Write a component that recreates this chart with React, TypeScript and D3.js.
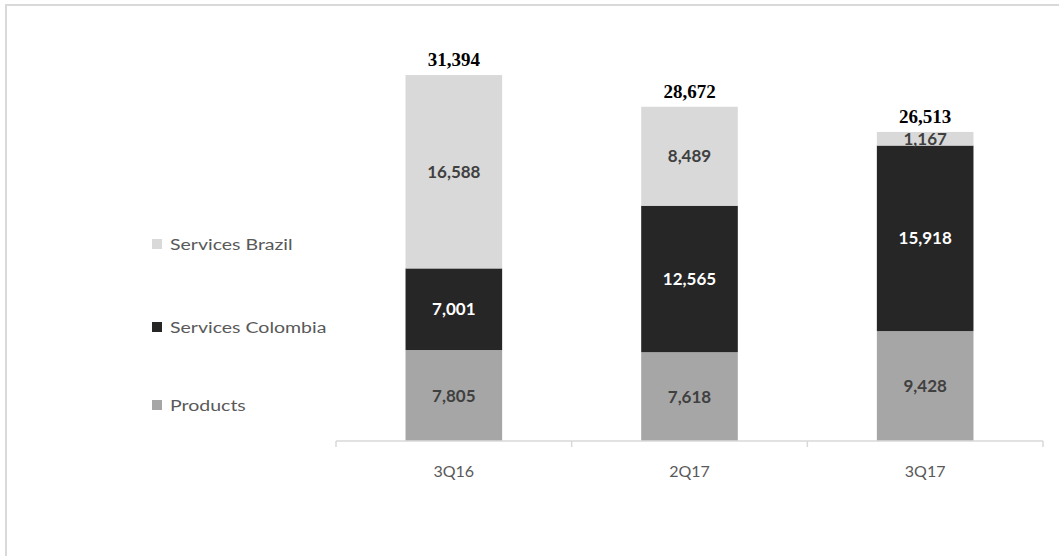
import React from "react";
import * as d3 from "d3";

const categories = ["3Q16", "2Q17", "3Q17"];
const products = [7805, 7618, 9428];
const servicesColombia = [7001, 12565, 15918];
const servicesBrazil = [16588, 8489, 1167];
const totals = [31394, 28672, 26513];
const seriesNames = ["Products", "Services Colombia", "Services Brazil"];
const seriesColors = ["#a6a6a6", "#262626", "#d9d9d9"];
const labelColors = ["#404040", "#ffffff", "#404040"];

const W = 1059;
const H = 556;
const sansFont = "Lato, 'Open Sans', sans-serif";

export default function App() {
  const x = d3.scaleBand<string>().domain(categories).range([336, 1043]).paddingInner(0.59).paddingOuter(0.295);
  const y = d3.scaleLinear().domain([0, 35000]).range([441, 33]);
  const rows = categories.map((c, i) => ({
    cat: c,
    Products: products[i],
    "Services Colombia": servicesColombia[i],
    "Services Brazil": servicesBrazil[i],
  }));
  const stack = d3.stack<any>().keys(seriesNames)(rows);
  const fmt = d3.format(",");
  const band = x.step();
  const ticks = [0, 1, 2, 3].map((i) => 336 + i * band);

  const legendY = [405, 327, 244];

  return (
    <div style={{ position: "fixed", left: 0, top: 0 }}>
      <svg width={W} height={H} style={{ display: "block", background: "#fff" }}>
        <rect x={6} y={5} width={1200} height={700} fill="none" stroke="#d9d9d9" strokeWidth={2} />
        {stack.map((s, si) => (
          <g key={s.key}>
            {s.map((d, i) => {
              const x0 = x(categories[i])!;
              const top = y(d[1]);
              const bot = y(d[0]);
              const val = d[1] - d[0];
              return (
                <g key={i}>
                  <rect x={x0} y={top} width={x.bandwidth()} height={bot - top} fill={seriesColors[si]} />
                  <text
                    x={x0 + x.bandwidth() / 2}
                    y={(top + bot) / 2}
                    dy="0.36em"
                    textAnchor="middle"
                    fontFamily={sansFont}
                    fontWeight="bold"
                    fontSize={17}
                    fill={labelColors[si]}
                  >
                    {fmt(val)}
                  </text>
                </g>
              );
            })}
          </g>
        ))}
        {totals.map((t, i) => (
          <text
            key={i}
            x={x(categories[i])! + x.bandwidth() / 2}
            y={y(t) - 9}
            textAnchor="middle"
            fontFamily="'Liberation Serif', 'Times New Roman', serif"
            fontWeight="bold"
            fontSize={19}
            fill="#000"
          >
            {fmt(t)}
          </text>
        ))}
        <line x1={336} x2={1043} y1={441} y2={441} stroke="#d9d9d9" strokeWidth={1.5} />
        {ticks.map((t, i) => (
          <line key={i} x1={t} x2={t} y1={441} y2={447} stroke="#d9d9d9" strokeWidth={1.5} />
        ))}
        {categories.map((c) => (
          <text
            key={c}
            x={x(c)! + x.bandwidth() / 2}
            y={471}
            dy="0.35em"
            textAnchor="middle"
            fontFamily={sansFont}
            fontSize={16}
            fill="#595959"
          >
            {c}
          </text>
        ))}
        {seriesNames.map((n, i) => (
          <g key={n}>
            <rect x={152} y={legendY[i] - 5} width={10} height={10} fill={seriesColors[i]} />
            <g transform={`translate(170,${legendY[i]}) scale(1.22,1)`}>
              <text x={0} y={0} dy="0.35em" fontFamily={sansFont} fontSize={16} fill="#595959">
                {n}
              </text>
            </g>
          </g>
        ))}
      </svg>
    </div>
  );
}
